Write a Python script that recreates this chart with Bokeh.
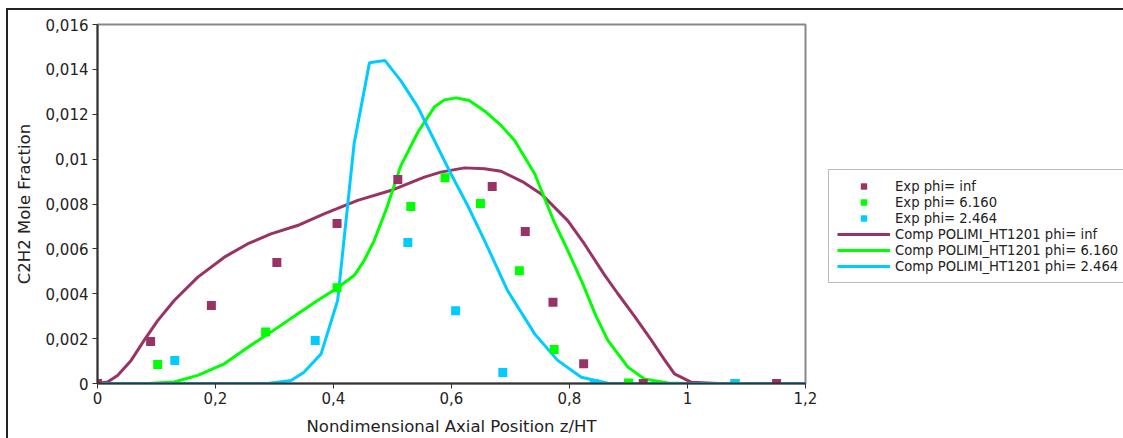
from bokeh.plotting import figure
from bokeh.models import (Legend, LegendItem, FixedTicker, CustomJSTickFormatter,
                          Range1d, InlineStyleSheet)
from bokeh.embed import file_html
from bokeh.resources import INLINE

# Experimental C2H2 mole fractions
exp_inf_x = [0.0, 0.090, 0.193, 0.304, 0.406, 0.509, 0.669, 0.725, 0.772, 0.824, 0.925, 1.151]
exp_inf_y = [0.0, 0.00187, 0.00348, 0.00539, 0.00713, 0.00909, 0.00878, 0.00677, 0.00362, 0.00088, 0.0, 0.0]

exp_616_x = [0.102, 0.285, 0.406, 0.531, 0.589, 0.649, 0.715, 0.774, 0.900, 1.081]
exp_616_y = [0.00085, 0.00229, 0.00427, 0.00789, 0.00917, 0.00802, 0.00503, 0.00152, 0.00002, 0.0]

exp_246_x = [0.131, 0.369, 0.526, 0.607, 0.687, 0.842, 1.080]
exp_246_y = [0.00103, 0.00192, 0.00628, 0.00324, 0.00049, 0.0, 0.0]

# POLIMI_HT1201 computed profiles
comp_inf_x = [0.0, 0.017, 0.034, 0.057, 0.079, 0.102, 0.130, 0.170, 0.215, 0.255, 0.294,
              0.339, 0.384, 0.441, 0.497, 0.554, 0.582, 0.622, 0.656, 0.684, 0.720, 0.752,
              0.797, 0.825, 0.859, 0.882, 0.910, 0.939, 0.960, 0.978, 1.006, 1.052, 1.2]
comp_inf_y = [0.0, 0.00007, 0.00036, 0.00103, 0.00192, 0.0028, 0.0037, 0.00474, 0.00563,
              0.00623, 0.00667, 0.00704, 0.00756, 0.00816, 0.0086, 0.0092, 0.00942, 0.00961,
              0.00957, 0.00946, 0.0090, 0.00845, 0.00726, 0.00623, 0.00485, 0.00400, 0.0030,
              0.00192, 0.0011, 0.00043, 0.00006, 0.0, 0.0]

comp_616_x = [0.0, 0.085, 0.130, 0.170, 0.215, 0.255, 0.294, 0.339, 0.373, 0.407, 0.435,
              0.452, 0.469, 0.490, 0.514, 0.543, 0.571, 0.588, 0.608, 0.630, 0.656, 0.684,
              0.707, 0.741, 0.774, 0.797, 0.820, 0.845, 0.865, 0.899, 0.927, 0.967, 1.0, 1.2]
comp_616_y = [0.0, 0.0, 0.00007, 0.00036, 0.00088, 0.00162, 0.00229, 0.0031, 0.0037, 0.00427,
              0.00481, 0.00548, 0.00637, 0.0078, 0.0097, 0.0112, 0.01232, 0.01264, 0.01273,
              0.01261, 0.01215, 0.0115, 0.01083, 0.00935, 0.0072, 0.00593, 0.0046, 0.0030,
              0.00192, 0.00073, 0.0002, 0.00002, 0.0, 0.0]

comp_246_x = [0.0, 0.288, 0.305, 0.328, 0.350, 0.379, 0.407, 0.435, 0.461, 0.487, 0.514,
              0.543, 0.571, 0.599, 0.628, 0.656, 0.695, 0.741, 0.780, 0.820, 0.865, 1.2]
comp_246_y = [0.0, 0.0, 0.00006, 0.00013, 0.0005, 0.00132, 0.0037, 0.0107, 0.0143, 0.0144,
              0.0135, 0.01232, 0.01083, 0.00935, 0.0079, 0.00637, 0.00414, 0.00221, 0.00103,
              0.00028, 0.00001, 0.0]

x_ticks = [0, 0.2, 0.4, 0.6, 0.8, 1.0, 1.2]
y_ticks = [0, 0.002, 0.004, 0.006, 0.008, 0.01, 0.012, 0.014, 0.016]

PURPLE = "#993366"
GREEN = "#00ff00"
CYAN = "#00ccff"
FONT = "DejaVu Sans"
TXT = "#222222"

# outer panel frame (top and left edges) drawn on the figure host element
frame_css = InlineStyleSheet(css="""
:host::after {
  content: "";
  position: absolute;
  left: 6px; top: 8px; right: -4px; bottom: -4px;
  border-top: 2px solid #222222;
  border-left: 2px solid #222222;
  pointer-events: none;
}
""")

p = figure(frame_width=708, frame_height=359, output_backend="svg", toolbar_location=None,
           x_range=Range1d(0, 1.2), y_range=Range1d(0, 0.016),
           min_border_left=97, min_border_top=24, min_border_right=318, min_border_bottom=55,
           stylesheets=[frame_css])
p.background_fill_color = "white"
p.border_fill_color = "white"
p.outline_line_color = "#888888"
p.outline_line_width = 2
p.xgrid.visible = False
p.ygrid.visible = False

fmt = CustomJSTickFormatter(code="""
    var s = parseFloat(tick.toFixed(4)).toString();
    return s.replace('.', ',');
""")

for ax, ticks in ((p.xaxis[0], x_ticks), (p.yaxis[0], y_ticks)):
    ax.ticker = FixedTicker(ticks=ticks)
    ax.formatter = fmt
    ax.minor_tick_line_color = None
    ax.major_tick_in = 0
    ax.major_tick_out = 5
    ax.major_tick_line_color = "#333333"
    ax.axis_line_color = "#333333"
    ax.axis_line_width = 2
    ax.major_label_text_font = FONT
    ax.major_label_text_font_size = "15px"
    ax.major_label_text_color = TXT
    ax.axis_label_text_font = FONT
    ax.axis_label_text_font_size = "16.5px"
    ax.axis_label_text_font_style = "normal"
    ax.axis_label_text_color = TXT

p.xaxis.axis_label = "Nondimensional Axial Position z/HT"
p.yaxis.axis_label = "C2H2 Mole Fraction"
p.xaxis.major_label_standoff = 3
p.yaxis.major_label_standoff = 4
p.xaxis.axis_label_standoff = 10
p.yaxis.axis_label_standoff = 9

l_inf = p.line(comp_inf_x, comp_inf_y, line_color=PURPLE, line_width=3)
l_616 = p.line(comp_616_x, comp_616_y, line_color=GREEN, line_width=3)
l_246 = p.line(comp_246_x, comp_246_y, line_color=CYAN, line_width=3)

s_inf = p.scatter(exp_inf_x, exp_inf_y, marker="square", size=9, fill_color=PURPLE, line_color=None)
s_616 = p.scatter(exp_616_x, exp_616_y, marker="square", size=9, fill_color=GREEN, line_color=None)
s_246 = p.scatter(exp_246_x, exp_246_y, marker="square", size=9, fill_color=CYAN, line_color=None)

legend = Legend(items=[
    LegendItem(label="Exp phi= inf", renderers=[s_inf]),
    LegendItem(label="Exp phi= 6.160", renderers=[s_616]),
    LegendItem(label="Exp phi= 2.464", renderers=[s_246]),
    LegendItem(label="Comp POLIMI_HT1201 phi= inf", renderers=[l_inf]),
    LegendItem(label="Comp POLIMI_HT1201 phi= 6.160", renderers=[l_616]),
    LegendItem(label="Comp POLIMI_HT1201 phi= 2.464", renderers=[l_246]),
], location=(23, 100))
legend.label_text_font = FONT
legend.label_text_font_size = "13.2px"
legend.label_text_color = TXT
legend.label_height = 16
legend.glyph_height = 16
legend.glyph_width = 53
legend.label_standoff = 5
legend.spacing = 0
legend.padding = 8
legend.margin = 0
legend.border_line_color = "#777777"
legend.border_line_width = 1
legend.background_fill_alpha = 1.0
p.add_layout(legend, "right")

open("out.html", "w").write(file_html(p, INLINE))
